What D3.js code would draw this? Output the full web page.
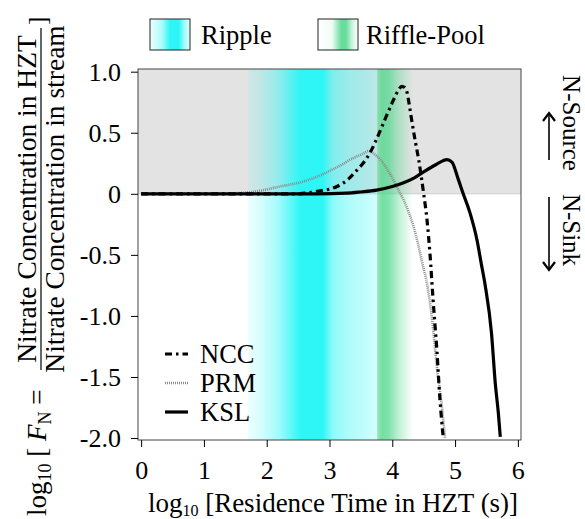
<!DOCTYPE html>
<html>
<head>
<meta charset="utf-8">
<script src="https://cdn.jsdelivr.net/npm/d3@7"></script>
<style>
  html, body { margin: 0; padding: 0; background: #fff; }
  svg { display: block; }
  svg text { font-family: "Liberation Serif", "Times New Roman", Times, serif; }
</style>
</head>
<body>
<svg id="chart" width="585" height="519"></svg>
<script>
// ---------- data ----------
const xTickValues = [0, 1, 2, 3, 4, 5, 6];
const xTickLabels = ["0", "1", "2", "3", "4", "5", "6"];
const yTickValues = [1.0, 0.5, 0, -0.5, -1.0, -1.5, -2.0];
const yTickLabels = ["1.0", "0.5", "0", "-0.5", "-1.0", "-1.5", "-2.0"];

const seriesNames = ["NCC", "PRM", "KSL"];

const nccLogT = [0, 1, 2, 2.48, 2.8, 3.12, 3.3, 3.43, 3.55, 3.65, 3.76, 3.86, 3.95, 4.02, 4.1, 4.15, 4.2, 4.23, 4.27, 4.31, 4.37, 4.42, 4.5, 4.55, 4.6, 4.65, 4.71, 4.76, 4.81];
const nccLogF = [0, 0, 0, 0.0, 0.02, 0.06, 0.12, 0.19, 0.26, 0.34, 0.46, 0.58, 0.69, 0.77, 0.85, 0.88, 0.87, 0.84, 0.73, 0.6, 0.42, 0.28, 0.0, -0.2, -0.49, -0.87, -1.28, -1.69, -1.99];

const prmLogT = [0, 1, 1.5, 1.84, 2.21, 2.58, 2.8, 3.01, 3.2, 3.33, 3.54, 3.62, 3.7, 3.81, 3.92, 4.02, 4.1, 4.18, 4.26, 4.34, 4.41, 4.47, 4.55, 4.63, 4.71, 4.79, 4.84];
const prmLogF = [0, 0, 0.005, 0.02, 0.06, 0.1, 0.14, 0.19, 0.24, 0.28, 0.33, 0.35, 0.33, 0.28, 0.2, 0.11, 0.03, -0.05, -0.15, -0.27, -0.41, -0.55, -0.73, -1.01, -1.42, -1.74, -2.0];

const kslLogT = [0, 1, 2, 2.8, 3.27, 3.5, 3.75, 4.0, 4.18, 4.35, 4.5, 4.7, 4.87, 4.95, 5.05, 5.13, 5.24, 5.35, 5.42, 5.48, 5.58, 5.64, 5.69, 5.72];
const kslLogF = [0, 0, 0, 0, 0.005, 0.015, 0.03, 0.06, 0.09, 0.13, 0.18, 0.24, 0.28, 0.26, 0.12, 0.0, -0.16, -0.38, -0.58, -0.75, -1.14, -1.55, -1.8, -1.99];

// bands (log10 residence time ranges)
const rippleBand = [1.7, 3.76];
const rifflePoolBand = [3.76, 4.33];

// ---------- layout ----------
const svg = d3.select("#chart");
const plot = { left: 138, right: 521, top: 69, bottom: 440 };
const x = d3.scaleLinear().domain([-0.05, 6.05]).range([plot.left, plot.right]);
const y = d3.scaleLinear().domain([-2.016, 1.022]).range([plot.bottom, plot.top]);

const defs = svg.append("defs");
defs.append("clipPath").attr("id", "clip").append("rect")
  .attr("x", plot.left).attr("y", plot.top)
  .attr("width", plot.right - plot.left).attr("height", plot.bottom - plot.top);

const cyan = "#2ef6f6";
const green = "#4cd68a";

function bandGradient(id, x1, x2, color, stops) {
  const g = defs.append("linearGradient").attr("id", id)
    .attr("gradientUnits", "userSpaceOnUse")
    .attr("x1", x1).attr("x2", x2).attr("y1", 0).attr("y2", 0);
  stops.forEach(([o, a]) => g.append("stop").attr("offset", o)
    .attr("stop-color", color).attr("stop-opacity", a));
}
function boxGradient(id, color, stops) {
  const g = defs.append("linearGradient").attr("id", id)
    .attr("x1", 0).attr("x2", 1).attr("y1", 0).attr("y2", 0);
  stops.forEach(([o, a]) => g.append("stop").attr("offset", o)
    .attr("stop-color", color).attr("stop-opacity", a));
}

bandGradient("rippleGrad", x(rippleBand[0]), x(rippleBand[1]), cyan,
  [[0, 0.08], [0.1, 0.2], [0.24, 0.45], [0.36, 0.85], [0.41, 1], [0.58, 1], [0.655, 0.55], [0.78, 0.38], [0.9, 0.3], [1, 0.2]]);
bandGradient("riffleGrad", x(rifflePoolBand[0]), x(rifflePoolBand[1]), green,
  [[0, 0.6], [0.15, 0.78], [0.33, 0.7], [0.6, 0.35], [1, 0]]);
boxGradient("rippleBox", cyan, [[0, 0.08], [0.3, 0.4], [0.5, 1], [0.72, 1], [0.86, 0.45], [1, 0.12]]);
boxGradient("riffleBox", green, [[0, 0], [0.35, 0.08], [0.58, 0.85], [0.7, 0.85], [0.85, 0.3], [1, 0]]);

// ---------- background ----------
const g = svg.append("g").attr("clip-path", "url(#clip)");
g.append("rect").attr("x", plot.left).attr("y", y(1.022))
  .attr("width", plot.right - plot.left).attr("height", y(0) - y(1.022))
  .attr("fill", "#e3e3e3");
g.append("line").attr("x1", plot.left).attr("x2", plot.right)
  .attr("y1", y(0)).attr("y2", y(0)).attr("stroke", "#cfcfcf").attr("stroke-width", 1);
g.append("rect").attr("x", x(rippleBand[0])).attr("y", plot.top)
  .attr("width", x(rippleBand[1]) - x(rippleBand[0])).attr("height", plot.bottom - plot.top)
  .attr("fill", "url(#rippleGrad)");
g.append("rect").attr("x", x(rifflePoolBand[0])).attr("y", plot.top)
  .attr("width", x(rifflePoolBand[1]) - x(rifflePoolBand[0])).attr("height", plot.bottom - plot.top)
  .attr("fill", "url(#riffleGrad)");

// ---------- lines ----------
const line = d3.line().x(d => x(d[0])).y(d => y(d[1])).curve(d3.curveMonotoneX);
const styles = {
  NCC: { color: "#000", width: 3.2, dash: "7,4,2.5,4" },
  PRM: { color: "#8a8a8a", width: 2.6, dash: "1,1" },
  KSL: { color: "#000", width: 3.2, dash: null }
};
const seriesData = {
  PRM: d3.zip(prmLogT, prmLogF),
  NCC: d3.zip(nccLogT, nccLogF),
  KSL: d3.zip(kslLogT, kslLogF)
};
["PRM", "KSL", "NCC"].forEach(name => {
  const s = styles[name];
  g.append("path").datum(seriesData[name]).attr("d", line)
    .attr("fill", "none").attr("stroke", s.color).attr("stroke-width", s.width)
    .attr("stroke-dasharray", s.dash).attr("stroke-linejoin", "round");
});

// ---------- frame & axes ----------
svg.append("rect").attr("x", plot.left).attr("y", plot.top)
  .attr("width", plot.right - plot.left).attr("height", plot.bottom - plot.top)
  .attr("fill", "none").attr("stroke", "#444").attr("stroke-width", 1);

const xAxis = d3.axisBottom(x).tickValues(xTickValues)
  .tickFormat((d, i) => xTickLabels[i]).tickSize(7).tickPadding(14);
const xa = svg.append("g").attr("transform", `translate(0,${plot.bottom})`).call(xAxis);
xa.attr("font-family", null);
xa.select(".domain").remove();
xa.selectAll("line").attr("stroke", "#000");
xa.selectAll("text").attr("font-size", 26).attr("fill", "#000");

const yAxis = d3.axisLeft(y).tickValues(yTickValues)
  .tickFormat((d, i) => yTickLabels[i]).tickSize(7).tickPadding(10);
const ya = svg.append("g").attr("transform", `translate(${plot.left},0)`).call(yAxis);
ya.attr("font-family", null);
ya.select(".domain").remove();
ya.selectAll("line").attr("stroke", "#000");
ya.selectAll("text").attr("font-size", 26).attr("fill", "#000");

// x axis title
const xt = svg.append("text").attr("x", 333).attr("y", 512)
  .attr("text-anchor", "middle").attr("font-size", 27).attr("fill", "#000");
xt.append("tspan").text("log");
xt.append("tspan").attr("font-size", 16).attr("dy", 4).text("10");
xt.append("tspan").attr("dy", -4).text(" [Residence Time in HZT (s)]");

// y axis title (rotated)
const yl = svg.append("g").attr("transform", "rotate(-90)");
const ylt = yl.append("text").attr("x", -516).attr("y", 46).attr("font-size", 27).attr("fill", "#000");
ylt.append("tspan").text("log");
ylt.append("tspan").attr("font-size", 18).attr("dy", 5).text("10");
ylt.append("tspan").attr("dy", -5).text(" [ ");
ylt.append("tspan").attr("font-style", "italic").text("F");
ylt.append("tspan").attr("font-size", 18).attr("dy", 5).text("N");
ylt.append("tspan").attr("dy", -5).text(" =");
const fracC = -199;
yl.append("text").attr("x", fracC).attr("y", 36).attr("text-anchor", "middle")
  .attr("font-size", 27.5).attr("fill", "#000").text("Nitrate Concentration in HZT");
yl.append("text").attr("x", fracC).attr("y", 64).attr("text-anchor", "middle")
  .attr("font-size", 27.5).attr("fill", "#000").text("Nitrate Concentration in stream");
yl.append("line").attr("x1", -370).attr("x2", -28).attr("y1", 41).attr("y2", 41)
  .attr("stroke", "#000").attr("stroke-width", 1.2);
yl.append("text").attr("x", -25).attr("y", 46).attr("font-size", 25).attr("fill", "#000").text("]");

// ---------- band legend ----------
const bandLegend = [
  { label: "Ripple", fill: "url(#rippleBox)", x0: 150, tx: 201 },
  { label: "Riffle-Pool", fill: "url(#riffleBox)", x0: 318, tx: 366 }
];
bandLegend.forEach(b => {
  svg.append("rect").attr("x", b.x0).attr("y", 19).attr("width", 40).attr("height", 31)
    .attr("fill", b.fill).attr("stroke", "#222").attr("stroke-width", 1);
  svg.append("text").attr("x", b.tx).attr("y", 44).attr("font-size", 26.5).attr("fill", "#000").text(b.label);
});

// ---------- series legend ----------
seriesNames.forEach((name, i) => {
  const s = styles[name];
  const yy = 354 + i * 29;
  svg.append("line").attr("x1", 165).attr("x2", 188).attr("y1", yy).attr("y2", yy)
    .attr("stroke", s.color).attr("stroke-width", s.width).attr("stroke-dasharray", s.dash);
  svg.append("text").attr("x", 200).attr("y", yy + 9).attr("font-size", 26.5).attr("fill", "#000").text(name);
});

// ---------- right annotations ----------
const ax = 549;
function arrow(y1, y2) {
  svg.append("line").attr("x1", ax).attr("x2", ax).attr("y1", y1).attr("y2", y2)
    .attr("stroke", "#000").attr("stroke-width", 1.6);
  const dir = Math.sign(y2 - y1);
  svg.append("path").attr("d", `M${ax - 6},${y2 - dir * 8} L${ax},${y2} L${ax + 6},${y2 - dir * 8}`)
    .attr("fill", "none").attr("stroke", "#000").attr("stroke-width", 2.2);
}
arrow(160, 113);
arrow(197, 270);
[["N-Source", 123], ["N-Sink", 230]].forEach(([t, cy]) => {
  svg.append("text").attr("transform", `translate(563,${cy}) rotate(90)`)
    .attr("text-anchor", "middle").attr("font-size", 25).attr("fill", "#000").text(t);
});
</script>
</body>
</html>
